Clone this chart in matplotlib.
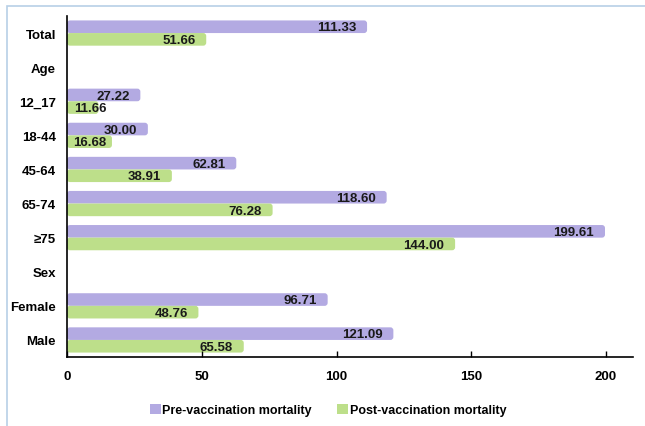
import numpy as np
import matplotlib
matplotlib.use('Agg')
import matplotlib.pyplot as plt
from matplotlib.patches import Rectangle, FancyBboxPatch, Patch

categories = ['Total', 'Age', '12_17', '18-44', '45-64', '65-74', '≥75', 'Sex', 'Female', 'Male']
pre_mortality = [111.33, np.nan, 27.22, 30.00, 62.81, 118.60, 199.61, np.nan, 96.71, 121.09]
post_mortality = [51.66, np.nan, 11.66, 16.68, 38.91, 76.28, 144.00, np.nan, 48.76, 65.58]
x_ticks = [0, 50, 100, 150, 200]

PRE_COLOR = '#b3aae2'
POST_COLOR = '#bddf8a'

plt.rcParams['font.family'] = ['Liberation Sans', 'DejaVu Sans']
plt.rcParams['font.weight'] = 'bold'

fig = plt.figure(figsize=(6.45, 4.27), dpi=100)
ax = fig.add_axes([67 / 645, 1 - 358 / 427, (633 - 67) / 645, (358 - 17) / 427])

# light blue frame around the chart area
fig.patches.append(Rectangle((7 / 645, -0.1), 1.2, 1 - 7 / 427 + 0.1,
                             transform=fig.transFigure, fill=False,
                             edgecolor='#b8d0e6', linewidth=1.2))

y = np.arange(len(categories))
h = 0.37
XLIM = 210


def rounded_bars(bars):
    # swap each rectangle for one with slightly rounded corners
    px_x = XLIM / 566.0      # x data units per pixel
    px_y = 10 / 341.0        # y data units per pixel
    for b in bars:
        w = b.get_width()
        b.set_visible(False)
        if np.isnan(w) or w == 0:
            continue
        x0, y0 = b.get_xy()
        p = FancyBboxPatch((x0, y0), w, b.get_height(),
                           boxstyle='round,pad=0,rounding_size=%f' % (3 * px_x),
                           mutation_aspect=px_y / px_x,
                           facecolor=b.get_facecolor(), edgecolor='none')
        ax.add_patch(p)


pre_bars = ax.barh(y - h / 2, pre_mortality, height=h, color=PRE_COLOR)
post_bars = ax.barh(y + h / 2, post_mortality, height=h, color=POST_COLOR)
rounded_bars(pre_bars)
rounded_bars(post_bars)

# value labels sit inside the bar end, but never closer than the axis start
for vals, offs in ((pre_mortality, -h / 2), (post_mortality, h / 2)):
    for yi, v in zip(y, vals):
        if np.isnan(v):
            continue
        xpos = max(v - 4.0, 14.6)
        ax.text(xpos, yi + offs + 0.02, f'{v:.2f}', ha='right', va='center',
                fontsize=9.5, fontweight='bold', color='#1a1a1a')

ax.set_xlim(0, XLIM)
ax.set_ylim(9.5, -0.5)
ax.set_yticks(y)
ax.set_yticklabels(categories, fontsize=9.5, fontweight='bold')
ax.set_xticks(x_ticks)
ax.set_xticklabels([str(t) for t in x_ticks], fontsize=9.5, fontweight='bold')
ax.tick_params(axis='y', length=0, pad=8)
ax.tick_params(axis='x', direction='in', length=4, pad=9, width=1)
for s in ['top', 'right']:
    ax.spines[s].set_visible(False)
ax.spines['left'].set_linewidth(1.2)
ax.spines['bottom'].set_linewidth(1.2)

handles = [Patch(facecolor=PRE_COLOR, label='Pre-vaccination mortality'),
           Patch(facecolor=POST_COLOR, label='Post-vaccination mortality')]
fig.legend(handles=handles, loc='center', bbox_to_anchor=(328 / 645, 1 - 411 / 427),
           ncol=2, frameon=False, handlelength=0.9, handleheight=0.9,
           handletextpad=0.1, columnspacing=2.0, prop={'weight': 'bold', 'size': 9})

fig.savefig('out.png', dpi=100)
